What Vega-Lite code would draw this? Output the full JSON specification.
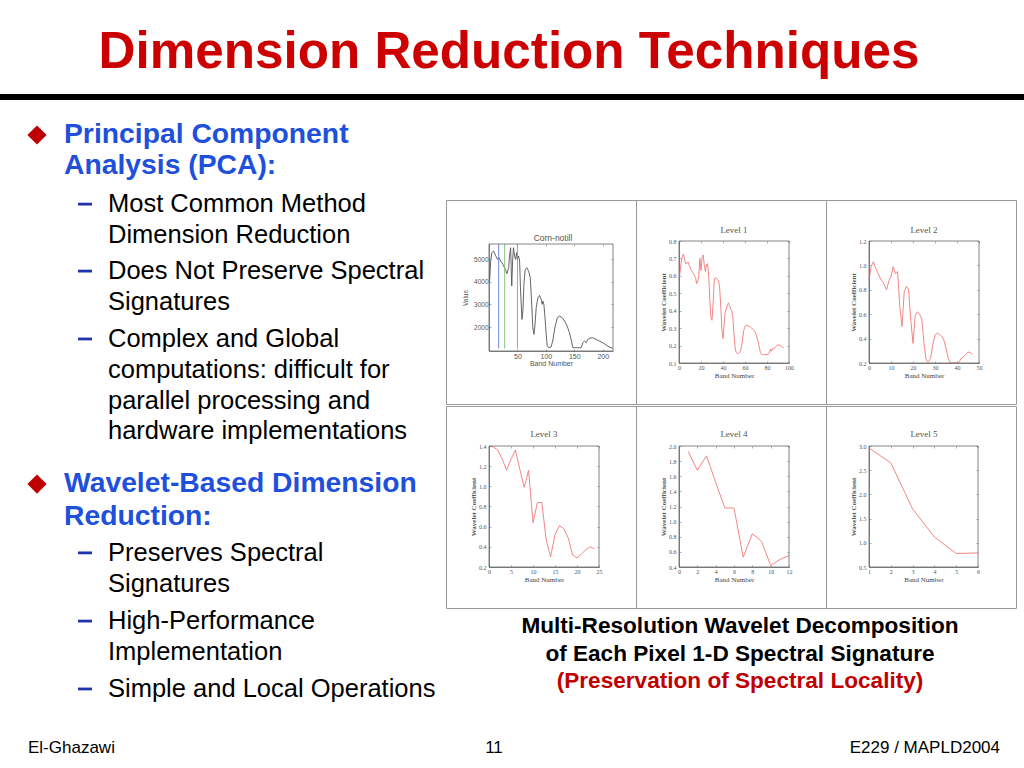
{
  "$schema": "https://vega.github.io/schema/vega-lite/v6.json",
  "padding": 0,
  "background": "white",
  "spacing": 0,
  "config": {
    "view": {"stroke": null},
    "concat": {"spacing": 0},
    "text": {"font": "Liberation Sans"},
    "axis": {"grid": false}
  },
  "vconcat": [
    {
      "width": 1024,
      "height": 100,
      "data": {"values": [{"t": "Dimension Reduction Techniques"}]},
      "layer": [
        {
          "mark": {"type": "text", "font": "Liberation Sans", "fontSize": 51.2, "fontWeight": "bold", "color": "#CC0000", "baseline": "alphabetic", "align": "center", "dx": -3, "dy": 18},
          "encoding": {"text": {"field": "t"}}
        },
        {
          "mark": {"type": "rect", "color": "#000000"},
          "encoding": {
            "y": {"datum": 94, "type": "quantitative", "scale": {"domain": [0, 100], "range": [0, 100]}, "axis": null},
            "y2": {"datum": 100}
          }
        }
      ]
    },
    {
      "hconcat": [
        {
          "width": 445,
          "height": 618,
          "data": {"values": [
            {"line": 0, "level": 1, "first": true, "text": "Principal Component"},
            {"line": 1, "level": 1, "first": false, "text": "Analysis (PCA):"},
            {"line": 2.23, "level": 2, "first": true, "text": "Most Common Method"},
            {"line": 3.23, "level": 2, "first": false, "text": "Dimension Reduction"},
            {"line": 4.39, "level": 2, "first": true, "text": "Does Not Preserve Spectral"},
            {"line": 5.39, "level": 2, "first": false, "text": "Signatures"},
            {"line": 6.58, "level": 2, "first": true, "text": "Complex and Global"},
            {"line": 7.58, "level": 2, "first": false, "text": "computations: difficult for"},
            {"line": 8.58, "level": 2, "first": false, "text": "parallel processing and"},
            {"line": 9.55, "level": 2, "first": false, "text": "hardware implementations"},
            {"line": 11.26, "level": 1, "first": true, "text": "Wavelet-Based Dimension"},
            {"line": 12.32, "level": 1, "first": false, "text": "Reduction:"},
            {"line": 13.48, "level": 2, "first": true, "text": "Preserves Spectral"},
            {"line": 14.48, "level": 2, "first": false, "text": "Signatures"},
            {"line": 15.68, "level": 2, "first": true, "text": "High-Performance"},
            {"line": 16.68, "level": 2, "first": false, "text": "Implementation"},
            {"line": 17.87, "level": 2, "first": true, "text": "Simple and Local Operations"}
          ]},
          "layer": [
            {
              "transform": [{"filter": "datum.level == 1"}],
              "mark": {"type": "text", "font": "Liberation Sans", "fontSize": 28.3, "fontWeight": "bold", "color": "#1E50DC", "align": "left", "baseline": "middle"},
              "encoding": {
                "x": {"field": "level", "type": "quantitative", "scale": {"domain": [1, 2], "range": [64, 108]}, "axis": null},
                "y": {"field": "line", "type": "quantitative", "scale": {"domain": [0, 18], "range": [35, 593]}, "axis": null},
                "text": {"field": "text"}
              }
            },
            {
              "transform": [{"filter": "datum.level == 2"}],
              "mark": {"type": "text", "font": "Liberation Sans", "fontSize": 25.5, "color": "#000000", "align": "left", "baseline": "middle"},
              "encoding": {
                "x": {"field": "level", "type": "quantitative", "scale": {"domain": [1, 2], "range": [64, 108]}, "axis": null},
                "y": {"field": "line", "type": "quantitative", "scale": {"domain": [0, 18], "range": [35, 593]}, "axis": null},
                "text": {"field": "text"}
              }
            },
            {
              "transform": [{"filter": "datum.level == 1 && datum.first"}],
              "mark": {"type": "point", "shape": "diamond", "filled": true, "size": 370, "color": "#C00000", "opacity": 1},
              "encoding": {
                "x": {"field": "level", "type": "quantitative", "scale": {"domain": [1, 2], "range": [37, 85]}, "axis": null},
                "y": {"field": "line", "type": "quantitative", "scale": {"domain": [0, 18], "range": [35, 593]}, "axis": null}
              }
            },
            {
              "transform": [{"filter": "datum.level == 2 && datum.first"}],
              "mark": {"type": "point", "shape": "M-1,-0.2H1V0.2H-1Z", "filled": true, "size": 196, "color": "#2233AA", "opacity": 1},
              "encoding": {
                "x": {"field": "level", "type": "quantitative", "scale": {"domain": [1, 2], "range": [37, 85]}, "axis": null},
                "y": {"field": "line", "type": "quantitative", "scale": {"domain": [0, 18], "range": [35, 593]}, "axis": null}
              }
            }
          ],
          "resolve": {"scale": {"x": "independent"}}
        },
        {
          "vconcat": [
            {
              "width": 570,
              "height": 99,
              "data": {"values": [{"a": 1}]},
              "mark": {"type": "text"},
              "encoding": {"text": {"value": ""}}
            },
            {
              "vconcat": [
                {
                  "hconcat": [
                    {
                      "width": 190,
                      "height": 204,
                      "view": {"stroke": "#999999", "strokeWidth": 1},
                      "title": {"text": "Corn-notill", "frame": "group", "anchor": "middle", "offset": -49, "dx": 12, "baseline": "alphabetic", "font": "Liberation Sans", "fontSize": 8.5, "fontWeight": "normal", "color": "#555555"},
                      "layer": [
                        {
                          "data": {"values": [
                            {"band": 1, "value": 4040}, {"band": 3, "value": 4926}, {"band": 5, "value": 5295}, {"band": 8, "value": 5370}, {"band": 12, "value": 5150}, {"band": 15, "value": 5000}, {"band": 17.5, "value": 5074}, {"band": 20.5, "value": 4926}, {"band": 24.5, "value": 4780}, {"band": 28.6, "value": 4557}, {"band": 31.6, "value": 4365}, {"band": 34.5, "value": 4630}, {"band": 36, "value": 5150}, {"band": 38, "value": 5517}, {"band": 39, "value": 4630}, {"band": 40, "value": 3818}, {"band": 41.5, "value": 4926}, {"band": 43, "value": 5517}, {"band": 45, "value": 5150}, {"band": 46.8, "value": 5000}, {"band": 48.5, "value": 5295}, {"band": 50, "value": 5000}, {"band": 52, "value": 5150}, {"band": 53.8, "value": 4926}, {"band": 55.5, "value": 3597}, {"band": 58, "value": 2340}, {"band": 59.6, "value": 2711}, {"band": 61.4, "value": 3892}, {"band": 63.7, "value": 4557}, {"band": 66.7, "value": 4630}, {"band": 70, "value": 4453}, {"band": 72.5, "value": 4188}, {"band": 74.8, "value": 3154}, {"band": 77, "value": 1972}, {"band": 79, "value": 1677}, {"band": 80.7, "value": 2046}, {"band": 83, "value": 2858}, {"band": 86, "value": 3301}, {"band": 88.9, "value": 3405}, {"band": 91.8, "value": 3228}, {"band": 93.6, "value": 3006}, {"band": 94.7, "value": 3154}, {"band": 96.5, "value": 3006}, {"band": 98, "value": 2563}, {"band": 100.6, "value": 1677}, {"band": 102.3, "value": 1160}, {"band": 105, "value": 1086}, {"band": 109, "value": 1116}, {"band": 112, "value": 1382}, {"band": 115.8, "value": 1972}, {"band": 120, "value": 2415}, {"band": 124, "value": 2489}, {"band": 128.7, "value": 2415}, {"band": 133, "value": 2268}, {"band": 137.4, "value": 2046}, {"band": 141.5, "value": 1751}, {"band": 145, "value": 1382}, {"band": 147.4, "value": 1086}, {"band": 150, "value": 1086}, {"band": 156, "value": 1086}, {"band": 162, "value": 1086}, {"band": 165, "value": 1307}, {"band": 168, "value": 1382}, {"band": 171, "value": 1307}, {"band": 173.7, "value": 1455}, {"band": 176.6, "value": 1500}, {"band": 182.5, "value": 1530}, {"band": 188, "value": 1455}, {"band": 194, "value": 1382}, {"band": 200, "value": 1307}, {"band": 206, "value": 1204}, {"band": 211.7, "value": 1116}, {"band": 217.5, "value": 1056}
                          ]},
                          "mark": {"type": "line", "color": "#555555", "strokeWidth": 0.9},
                          "encoding": {
                            "x": {"field": "band", "type": "quantitative", "scale": {"domain": [0, 218], "range": [43, 167], "nice": false, "zero": false},
                              "axis": {"orient": "bottom", "offset": -53, "values": [50, 100, 150, 200], "format": "d", "title": "Band Number", "labelFont": "Liberation Sans", "labelFontSize": 7, "labelColor": "#555555", "labelPadding": 3, "labelFlush": false, "labelOverlap": false, "titleFont": "Liberation Sans", "titleFontSize": 7, "titleFontWeight": "normal", "titleColor": "#555555", "titlePadding": 0, "tickSize": -2, "tickColor": "#777777", "tickWidth": 0.6, "domainColor": "#666666", "domainWidth": 0.8}},
                            "y": {"field": "value", "type": "quantitative", "scale": {"domain": [940, 5680], "range": [151, 44], "nice": false, "zero": false},
                              "axis": {"orient": "left", "offset": -43, "values": [2000, 3000, 4000, 5000], "format": "d", "title": "Value", "labelFont": "Liberation Sans", "labelFontSize": 6.5, "labelColor": "#555555", "labelPadding": 3, "labelFlush": false, "labelOverlap": false, "titleFont": "Liberation Sans", "titleFontSize": 6.5, "titleFontWeight": "normal", "titleColor": "#555555", "titlePadding": 5, "tickSize": -2, "tickColor": "#777777", "tickWidth": 0.6, "domainColor": "#666666", "domainWidth": 0.8}}
                          }
                        },
                        {
                          "data": {"values": [{"band": 17, "marker": "blue"}, {"band": 27.5, "marker": "green"}, {"band": 50, "marker": "red"}]},
                          "mark": {"type": "rule", "strokeWidth": 0.9},
                          "encoding": {
                            "x": {"field": "band", "type": "quantitative", "axis": null},
                            "y": {"datum": 5680, "type": "quantitative", "axis": null},
                            "y2": {"datum": 1050},
                            "color": {"field": "marker", "type": "nominal", "scale": {"domain": ["blue", "green", "red"], "range": ["#6677DD", "#77C077", "#DD7777"]}, "legend": null}
                          }
                        },
                        {
                          "data": {"values": [{"frame": "box"}]},
                          "mark": {"type": "rect", "fillOpacity": 0, "stroke": "#666666", "strokeWidth": 0.8},
                          "encoding": {
                            "x": {"datum": 0, "type": "quantitative", "axis": {"orient": "top", "offset": -44, "values": [0, 50, 100, 150, 200], "labels": false, "title": null, "domain": false, "tickSize": -2, "tickColor": "#777777", "tickWidth": 0.6}},
                            "x2": {"datum": 218},
                            "y": {"datum": 940, "type": "quantitative", "axis": {"orient": "right", "offset": -23, "values": [2000, 3000, 4000, 5000], "labels": false, "title": null, "domain": false, "tickSize": -2, "tickColor": "#777777", "tickWidth": 0.6}},
                            "y2": {"datum": 5680}
                          }
                        }
                      ],
                      "resolve": {"axis": {"x": "independent", "y": "independent"}}
                    },
                    {
                      "width": 190,
                      "height": 204,
                      "view": {"stroke": "#999999", "strokeWidth": 1},
                      "title": {"text": "Level 1", "frame": "group", "anchor": "middle", "offset": -42, "dx": 3, "baseline": "alphabetic", "font": "Liberation Serif", "fontSize": 9, "fontWeight": "normal", "color": "#555555"},
                      "layer": [
                        {
                          "data": {"values": [
                            {"band": 0, "coef": 0.58}, {"band": 1, "coef": 0.62}, {"band": 2, "coef": 0.68}, {"band": 3, "coef": 0.71}, {"band": 4, "coef": 0.725}, {"band": 5, "coef": 0.7}, {"band": 6, "coef": 0.67}, {"band": 7, "coef": 0.67}, {"band": 8, "coef": 0.68}, {"band": 9, "coef": 0.665}, {"band": 10, "coef": 0.65}, {"band": 11, "coef": 0.635}, {"band": 12, "coef": 0.625}, {"band": 13, "coef": 0.615}, {"band": 14, "coef": 0.6}, {"band": 15, "coef": 0.59}, {"band": 16, "coef": 0.555}, {"band": 17, "coef": 0.57}, {"band": 18, "coef": 0.6}, {"band": 19, "coef": 0.7}, {"band": 20, "coef": 0.63}, {"band": 21, "coef": 0.71}, {"band": 22, "coef": 0.72}, {"band": 23, "coef": 0.66}, {"band": 24, "coef": 0.625}, {"band": 25, "coef": 0.665}, {"band": 26, "coef": 0.67}, {"band": 27, "coef": 0.6}, {"band": 28, "coef": 0.47}, {"band": 29, "coef": 0.36}, {"band": 30, "coef": 0.345}, {"band": 31, "coef": 0.44}, {"band": 32, "coef": 0.57}, {"band": 33, "coef": 0.59}, {"band": 34, "coef": 0.585}, {"band": 35, "coef": 0.58}, {"band": 36, "coef": 0.57}, {"band": 37, "coef": 0.53}, {"band": 38, "coef": 0.42}, {"band": 39, "coef": 0.29}, {"band": 40, "coef": 0.24}, {"band": 41, "coef": 0.32}, {"band": 42, "coef": 0.39}, {"band": 43, "coef": 0.41}, {"band": 44, "coef": 0.435}, {"band": 45, "coef": 0.445}, {"band": 46, "coef": 0.425}, {"band": 47, "coef": 0.41}, {"band": 48, "coef": 0.4}, {"band": 49, "coef": 0.36}, {"band": 50, "coef": 0.26}, {"band": 51, "coef": 0.19}, {"band": 52, "coef": 0.16}, {"band": 53, "coef": 0.155}, {"band": 54, "coef": 0.155}, {"band": 55, "coef": 0.158}, {"band": 56, "coef": 0.17}, {"band": 57, "coef": 0.2}, {"band": 58, "coef": 0.25}, {"band": 59, "coef": 0.29}, {"band": 60, "coef": 0.31}, {"band": 61, "coef": 0.318}, {"band": 62, "coef": 0.315}, {"band": 63, "coef": 0.312}, {"band": 64, "coef": 0.31}, {"band": 65, "coef": 0.305}, {"band": 66, "coef": 0.3}, {"band": 67, "coef": 0.296}, {"band": 68, "coef": 0.29}, {"band": 69, "coef": 0.28}, {"band": 70, "coef": 0.265}, {"band": 71, "coef": 0.245}, {"band": 72, "coef": 0.22}, {"band": 73, "coef": 0.19}, {"band": 74, "coef": 0.16}, {"band": 75, "coef": 0.15}, {"band": 76, "coef": 0.148}, {"band": 77, "coef": 0.148}, {"band": 78, "coef": 0.148}, {"band": 79, "coef": 0.148}, {"band": 80, "coef": 0.149}, {"band": 81, "coef": 0.15}, {"band": 82, "coef": 0.155}, {"band": 83, "coef": 0.18}, {"band": 84, "coef": 0.167}, {"band": 85, "coef": 0.185}, {"band": 86, "coef": 0.18}, {"band": 87, "coef": 0.19}, {"band": 88, "coef": 0.195}, {"band": 89, "coef": 0.2}, {"band": 90, "coef": 0.204}, {"band": 91, "coef": 0.203}, {"band": 92, "coef": 0.2}, {"band": 93, "coef": 0.196}, {"band": 94, "coef": 0.19}, {"band": 95, "coef": 0.19}
                          ]},
                          "mark": {"type": "line", "color": "#F07878", "strokeWidth": 0.9},
                          "encoding": {
                            "x": {"field": "band", "type": "quantitative", "scale": {"domain": [0, 100], "range": [43, 153], "nice": false, "zero": false},
                              "axis": {"orient": "bottom", "offset": -41, "values": [0, 20, 40, 60, 80, 100], "format": "d", "title": "Band Number", "labelFont": "Liberation Serif", "labelFontSize": 6, "labelColor": "#555555", "labelPadding": 3, "labelFlush": false, "labelOverlap": false, "titleFont": "Liberation Serif", "titleFontSize": 7, "titleFontWeight": "normal", "titleColor": "#444444", "titlePadding": 1, "tickSize": -2, "tickColor": "#777777", "tickWidth": 0.6, "domainColor": "#666666", "domainWidth": 0.8}},
                            "y": {"field": "coef", "type": "quantitative", "scale": {"domain": [0.1, 0.8], "range": [163, 41], "nice": false, "zero": false},
                              "axis": {"orient": "left", "offset": -43, "values": [0.1, 0.2, 0.3, 0.4, 0.5, 0.6, 0.7, 0.8], "format": ".1f", "title": "Wavelet Coefficient", "labelFont": "Liberation Serif", "labelFontSize": 6, "labelColor": "#555555", "labelPadding": 5, "labelFlush": false, "labelOverlap": false, "titleFont": "Liberation Serif", "titleFontSize": 7, "titleFontWeight": "bold", "titleColor": "#555555", "titlePadding": 2, "tickSize": -2, "tickColor": "#777777", "tickWidth": 0.6, "domainColor": "#666666", "domainWidth": 0.8}}
                          }
                        },
                        {
                          "data": {"values": [{"frame": "box"}]},
                          "mark": {"type": "rect", "fillOpacity": 0, "stroke": "#666666", "strokeWidth": 0.8},
                          "encoding": {
                            "x": {"datum": 0, "type": "quantitative", "axis": {"orient": "top", "offset": -41, "values": [0, 20, 40, 60, 80, 100], "labels": false, "title": null, "domain": false, "tickSize": -2, "tickColor": "#777777", "tickWidth": 0.6}},
                            "x2": {"datum": 100},
                            "y": {"datum": 0.1, "type": "quantitative", "axis": {"orient": "right", "offset": -37, "values": [0.1, 0.2, 0.3, 0.4, 0.5, 0.6, 0.7, 0.8], "labels": false, "title": null, "domain": false, "tickSize": -2, "tickColor": "#777777", "tickWidth": 0.6}},
                            "y2": {"datum": 0.8}
                          }
                        }
                      ],
                      "resolve": {"axis": {"x": "independent", "y": "independent"}}
                    },
                    {
                      "width": 190,
                      "height": 204,
                      "view": {"stroke": "#999999", "strokeWidth": 1},
                      "title": {"text": "Level 2", "frame": "group", "anchor": "middle", "offset": -42, "dx": 3, "baseline": "alphabetic", "font": "Liberation Serif", "fontSize": 9, "fontWeight": "normal", "color": "#555555"},
                      "layer": [
                        {
                          "data": {"values": [
                            {"band": 0, "coef": 0.88}, {"band": 1, "coef": 0.99}, {"band": 2, "coef": 1.03}, {"band": 3, "coef": 0.98}, {"band": 4, "coef": 0.94}, {"band": 5, "coef": 0.9}, {"band": 6, "coef": 0.87}, {"band": 7, "coef": 0.84}, {"band": 8, "coef": 0.8}, {"band": 9, "coef": 0.87}, {"band": 10, "coef": 0.91}, {"band": 11, "coef": 0.99}, {"band": 12, "coef": 0.93}, {"band": 13, "coef": 0.95}, {"band": 14, "coef": 0.66}, {"band": 15, "coef": 0.5}, {"band": 16, "coef": 0.78}, {"band": 17, "coef": 0.83}, {"band": 18, "coef": 0.8}, {"band": 19, "coef": 0.55}, {"band": 20, "coef": 0.36}, {"band": 21, "coef": 0.59}, {"band": 22, "coef": 0.62}, {"band": 23, "coef": 0.6}, {"band": 24, "coef": 0.56}, {"band": 25, "coef": 0.36}, {"band": 26, "coef": 0.22}, {"band": 27, "coef": 0.21}, {"band": 28, "coef": 0.24}, {"band": 29, "coef": 0.35}, {"band": 30, "coef": 0.43}, {"band": 31, "coef": 0.445}, {"band": 32, "coef": 0.435}, {"band": 33, "coef": 0.42}, {"band": 34, "coef": 0.39}, {"band": 35, "coef": 0.32}, {"band": 36, "coef": 0.24}, {"band": 37, "coef": 0.2}, {"band": 38, "coef": 0.2}, {"band": 39, "coef": 0.2}, {"band": 40, "coef": 0.2}, {"band": 41, "coef": 0.21}, {"band": 42, "coef": 0.24}, {"band": 43, "coef": 0.25}, {"band": 44, "coef": 0.27}, {"band": 45, "coef": 0.29}, {"band": 46, "coef": 0.285}, {"band": 47, "coef": 0.27}
                          ]},
                          "mark": {"type": "line", "color": "#F07878", "strokeWidth": 0.9},
                          "encoding": {
                            "x": {"field": "band", "type": "quantitative", "scale": {"domain": [0, 50], "range": [43, 153], "nice": false, "zero": false},
                              "axis": {"orient": "bottom", "offset": -41, "values": [0, 10, 20, 30, 40, 50], "format": "d", "title": "Band Number", "labelFont": "Liberation Serif", "labelFontSize": 6, "labelColor": "#555555", "labelPadding": 3, "labelFlush": false, "labelOverlap": false, "titleFont": "Liberation Serif", "titleFontSize": 7, "titleFontWeight": "normal", "titleColor": "#444444", "titlePadding": 1, "tickSize": -2, "tickColor": "#777777", "tickWidth": 0.6, "domainColor": "#666666", "domainWidth": 0.8}},
                            "y": {"field": "coef", "type": "quantitative", "scale": {"domain": [0.2, 1.2], "range": [163, 41], "nice": false, "zero": false},
                              "axis": {"orient": "left", "offset": -43, "values": [0.2, 0.4, 0.6, 0.8, 1.0, 1.2], "format": ".1f", "title": "Wavelet Coefficient", "labelFont": "Liberation Serif", "labelFontSize": 6, "labelColor": "#555555", "labelPadding": 5, "labelFlush": false, "labelOverlap": false, "titleFont": "Liberation Serif", "titleFontSize": 7, "titleFontWeight": "bold", "titleColor": "#555555", "titlePadding": 2, "tickSize": -2, "tickColor": "#777777", "tickWidth": 0.6, "domainColor": "#666666", "domainWidth": 0.8}}
                          }
                        },
                        {
                          "data": {"values": [{"frame": "box"}]},
                          "mark": {"type": "rect", "fillOpacity": 0, "stroke": "#666666", "strokeWidth": 0.8},
                          "encoding": {
                            "x": {"datum": 0, "type": "quantitative", "axis": {"orient": "top", "offset": -41, "values": [0, 10, 20, 30, 40, 50], "labels": false, "title": null, "domain": false, "tickSize": -2, "tickColor": "#777777", "tickWidth": 0.6}},
                            "x2": {"datum": 50},
                            "y": {"datum": 0.2, "type": "quantitative", "axis": {"orient": "right", "offset": -37, "values": [0.2, 0.4, 0.6, 0.8, 1.0, 1.2], "labels": false, "title": null, "domain": false, "tickSize": -2, "tickColor": "#777777", "tickWidth": 0.6}},
                            "y2": {"datum": 1.2}
                          }
                        }
                      ],
                      "resolve": {"axis": {"x": "independent", "y": "independent"}}
                    }
                  ],
                  "spacing": 0,
                  "bounds": "flush"
                },
                {
                  "hconcat": [
                    {
                      "width": 190,
                      "height": 202,
                      "view": {"stroke": "#999999", "strokeWidth": 1},
                      "title": {"text": "Level 3", "frame": "group", "anchor": "middle", "offset": -40, "dx": 3, "baseline": "alphabetic", "font": "Liberation Serif", "fontSize": 9, "fontWeight": "normal", "color": "#555555"},
                      "layer": [
                        {
                          "data": {"values": [
                            {"band": 0, "coef": 1.4}, {"band": 1, "coef": 1.39}, {"band": 2, "coef": 1.36}, {"band": 3, "coef": 1.27}, {"band": 4, "coef": 1.16}, {"band": 5, "coef": 1.27}, {"band": 6, "coef": 1.36}, {"band": 7, "coef": 1.17}, {"band": 8, "coef": 0.99}, {"band": 9, "coef": 1.16}, {"band": 10, "coef": 0.64}, {"band": 11, "coef": 0.84}, {"band": 12, "coef": 0.84}, {"band": 13, "coef": 0.47}, {"band": 14, "coef": 0.3}, {"band": 15, "coef": 0.52}, {"band": 16, "coef": 0.61}, {"band": 17, "coef": 0.58}, {"band": 18, "coef": 0.49}, {"band": 19, "coef": 0.32}, {"band": 20, "coef": 0.29}, {"band": 21, "coef": 0.33}, {"band": 22, "coef": 0.37}, {"band": 23, "coef": 0.4}, {"band": 24, "coef": 0.38}
                          ]},
                          "mark": {"type": "line", "color": "#F07878", "strokeWidth": 0.9},
                          "encoding": {
                            "x": {"field": "band", "type": "quantitative", "scale": {"domain": [0, 25], "range": [43, 153], "nice": false, "zero": false},
                              "axis": {"orient": "bottom", "offset": -41, "values": [0, 5, 10, 15, 20, 25], "format": "d", "title": "Band Number", "labelFont": "Liberation Serif", "labelFontSize": 6, "labelColor": "#555555", "labelPadding": 3, "labelFlush": false, "labelOverlap": false, "titleFont": "Liberation Serif", "titleFontSize": 7, "titleFontWeight": "normal", "titleColor": "#444444", "titlePadding": 1, "tickSize": -2, "tickColor": "#777777", "tickWidth": 0.6, "domainColor": "#666666", "domainWidth": 0.8}},
                            "y": {"field": "coef", "type": "quantitative", "scale": {"domain": [0.2, 1.4], "range": [161, 40], "nice": false, "zero": false},
                              "axis": {"orient": "left", "offset": -43, "values": [0.2, 0.4, 0.6, 0.8, 1.0, 1.2, 1.4], "format": ".1f", "title": "Wavelet Coefficient", "labelFont": "Liberation Serif", "labelFontSize": 6, "labelColor": "#555555", "labelPadding": 5, "labelFlush": false, "labelOverlap": false, "titleFont": "Liberation Serif", "titleFontSize": 7, "titleFontWeight": "bold", "titleColor": "#555555", "titlePadding": 2, "tickSize": -2, "tickColor": "#777777", "tickWidth": 0.6, "domainColor": "#666666", "domainWidth": 0.8}}
                          }
                        },
                        {
                          "data": {"values": [{"frame": "box"}]},
                          "mark": {"type": "rect", "fillOpacity": 0, "stroke": "#666666", "strokeWidth": 0.8},
                          "encoding": {
                            "x": {"datum": 0, "type": "quantitative", "axis": {"orient": "top", "offset": -40, "values": [0, 5, 10, 15, 20, 25], "labels": false, "title": null, "domain": false, "tickSize": -2, "tickColor": "#777777", "tickWidth": 0.6}},
                            "x2": {"datum": 25},
                            "y": {"datum": 0.2, "type": "quantitative", "axis": {"orient": "right", "offset": -37, "values": [0.2, 0.4, 0.6, 0.8, 1.0, 1.2, 1.4], "labels": false, "title": null, "domain": false, "tickSize": -2, "tickColor": "#777777", "tickWidth": 0.6}},
                            "y2": {"datum": 1.4}
                          }
                        }
                      ],
                      "resolve": {"axis": {"x": "independent", "y": "independent"}}
                    },
                    {
                      "width": 190,
                      "height": 202,
                      "view": {"stroke": "#999999", "strokeWidth": 1},
                      "title": {"text": "Level 4", "frame": "group", "anchor": "middle", "offset": -40, "dx": 3, "baseline": "alphabetic", "font": "Liberation Serif", "fontSize": 9, "fontWeight": "normal", "color": "#555555"},
                      "layer": [
                        {
                          "data": {"values": [
                            {"band": 1, "coef": 1.93}, {"band": 2, "coef": 1.68}, {"band": 3, "coef": 1.87}, {"band": 4, "coef": 1.52}, {"band": 5, "coef": 1.18}, {"band": 6, "coef": 1.18}, {"band": 7, "coef": 0.53}, {"band": 8, "coef": 0.84}, {"band": 9, "coef": 0.74}, {"band": 10, "coef": 0.42}, {"band": 11, "coef": 0.5}, {"band": 12, "coef": 0.55}
                          ]},
                          "mark": {"type": "line", "color": "#F07878", "strokeWidth": 0.9},
                          "encoding": {
                            "x": {"field": "band", "type": "quantitative", "scale": {"domain": [0, 12], "range": [43, 153], "nice": false, "zero": false},
                              "axis": {"orient": "bottom", "offset": -41, "values": [0, 2, 4, 6, 8, 10, 12], "format": "d", "title": "Band Number", "labelFont": "Liberation Serif", "labelFontSize": 6, "labelColor": "#555555", "labelPadding": 3, "labelFlush": false, "labelOverlap": false, "titleFont": "Liberation Serif", "titleFontSize": 7, "titleFontWeight": "normal", "titleColor": "#444444", "titlePadding": 1, "tickSize": -2, "tickColor": "#777777", "tickWidth": 0.6, "domainColor": "#666666", "domainWidth": 0.8}},
                            "y": {"field": "coef", "type": "quantitative", "scale": {"domain": [0.4, 2.0], "range": [161, 40], "nice": false, "zero": false},
                              "axis": {"orient": "left", "offset": -43, "values": [0.4, 0.6, 0.8, 1.0, 1.2, 1.4, 1.6, 1.8, 2.0], "format": ".1f", "title": "Wavelet Coefficient", "labelFont": "Liberation Serif", "labelFontSize": 6, "labelColor": "#555555", "labelPadding": 5, "labelFlush": false, "labelOverlap": false, "titleFont": "Liberation Serif", "titleFontSize": 7, "titleFontWeight": "bold", "titleColor": "#555555", "titlePadding": 2, "tickSize": -2, "tickColor": "#777777", "tickWidth": 0.6, "domainColor": "#666666", "domainWidth": 0.8}}
                          }
                        },
                        {
                          "data": {"values": [{"frame": "box"}]},
                          "mark": {"type": "rect", "fillOpacity": 0, "stroke": "#666666", "strokeWidth": 0.8},
                          "encoding": {
                            "x": {"datum": 0, "type": "quantitative", "axis": {"orient": "top", "offset": -40, "values": [0, 2, 4, 6, 8, 10, 12], "labels": false, "title": null, "domain": false, "tickSize": -2, "tickColor": "#777777", "tickWidth": 0.6}},
                            "x2": {"datum": 12},
                            "y": {"datum": 0.4, "type": "quantitative", "axis": {"orient": "right", "offset": -37, "values": [0.4, 0.6, 0.8, 1.0, 1.2, 1.4, 1.6, 1.8, 2.0], "labels": false, "title": null, "domain": false, "tickSize": -2, "tickColor": "#777777", "tickWidth": 0.6}},
                            "y2": {"datum": 2.0}
                          }
                        }
                      ],
                      "resolve": {"axis": {"x": "independent", "y": "independent"}}
                    },
                    {
                      "width": 190,
                      "height": 202,
                      "view": {"stroke": "#999999", "strokeWidth": 1},
                      "title": {"text": "Level 5", "frame": "group", "anchor": "middle", "offset": -40, "dx": 3, "baseline": "alphabetic", "font": "Liberation Serif", "fontSize": 9, "fontWeight": "normal", "color": "#555555"},
                      "layer": [
                        {
                          "data": {"values": [
                            {"band": 1, "coef": 2.96}, {"band": 2, "coef": 2.65}, {"band": 3, "coef": 1.7}, {"band": 4, "coef": 1.12}, {"band": 5, "coef": 0.78}, {"band": 6, "coef": 0.79}
                          ]},
                          "mark": {"type": "line", "color": "#F07878", "strokeWidth": 0.9},
                          "encoding": {
                            "x": {"field": "band", "type": "quantitative", "scale": {"domain": [1, 6], "range": [43, 152], "nice": false, "zero": false},
                              "axis": {"orient": "bottom", "offset": -41, "values": [1, 2, 3, 4, 5, 6], "format": "d", "title": "Band Number", "labelFont": "Liberation Serif", "labelFontSize": 6, "labelColor": "#555555", "labelPadding": 3, "labelFlush": false, "labelOverlap": false, "titleFont": "Liberation Serif", "titleFontSize": 7, "titleFontWeight": "normal", "titleColor": "#444444", "titlePadding": 1, "tickSize": -2, "tickColor": "#777777", "tickWidth": 0.6, "domainColor": "#666666", "domainWidth": 0.8}},
                            "y": {"field": "coef", "type": "quantitative", "scale": {"domain": [0.5, 3.0], "range": [161, 40], "nice": false, "zero": false},
                              "axis": {"orient": "left", "offset": -43, "values": [0.5, 1.0, 1.5, 2.0, 2.5, 3.0], "format": ".1f", "title": "Wavelet Coefficient", "labelFont": "Liberation Serif", "labelFontSize": 6, "labelColor": "#555555", "labelPadding": 5, "labelFlush": false, "labelOverlap": false, "titleFont": "Liberation Serif", "titleFontSize": 7, "titleFontWeight": "bold", "titleColor": "#555555", "titlePadding": 2, "tickSize": -2, "tickColor": "#777777", "tickWidth": 0.6, "domainColor": "#666666", "domainWidth": 0.8}}
                          }
                        },
                        {
                          "data": {"values": [{"frame": "box"}]},
                          "mark": {"type": "rect", "fillOpacity": 0, "stroke": "#666666", "strokeWidth": 0.8},
                          "encoding": {
                            "x": {"datum": 1, "type": "quantitative", "axis": {"orient": "top", "offset": -40, "values": [1, 2, 3, 4, 5, 6], "labels": false, "title": null, "domain": false, "tickSize": -2, "tickColor": "#777777", "tickWidth": 0.6}},
                            "x2": {"datum": 6},
                            "y": {"datum": 0.5, "type": "quantitative", "axis": {"orient": "right", "offset": -38, "values": [0.5, 1.0, 1.5, 2.0, 2.5, 3.0], "labels": false, "title": null, "domain": false, "tickSize": -2, "tickColor": "#777777", "tickWidth": 0.6}},
                            "y2": {"datum": 3.0}
                          }
                        }
                      ],
                      "resolve": {"axis": {"x": "independent", "y": "independent"}}
                    }
                  ],
                  "spacing": 0,
                  "bounds": "flush"
                }
              ],
              "spacing": 0
            },
            {
              "width": 570,
              "height": 111,
              "data": {"values": [
                {"line": 0, "t": "Multi-Resolution Wavelet Decomposition", "emph": "no"},
                {"line": 1, "t": "of Each Pixel 1-D Spectral Signature", "emph": "no"},
                {"line": 2, "t": "(Preservation of Spectral Locality)", "emph": "yes"}
              ]},
              "encoding": {
                "y": {"field": "line", "type": "quantitative", "scale": {"domain": [0, 2], "range": [17, 72]}, "axis": null},
                "text": {"field": "t"}
              },
              "layer": [
                {"transform": [{"filter": "datum.emph == 'no'"}], "mark": {"type": "text", "font": "Liberation Sans", "fontWeight": "bold", "fontSize": 22.6, "align": "center", "baseline": "middle", "dx": 9, "color": "#000000"}},
                {"transform": [{"filter": "datum.emph == 'yes'"}], "mark": {"type": "text", "font": "Liberation Sans", "fontWeight": "bold", "fontSize": 22.6, "align": "center", "baseline": "middle", "dx": 9, "color": "#C00000"}}
              ]
            }
          ],
          "spacing": 0
        }
      ],
      "spacing": 0
    },
    {
      "width": 1024,
      "height": 50,
      "data": {"values": [
        {"t": "El-Ghazawi", "pos": "left"},
        {"t": "11", "pos": "center"},
        {"t": "E229 / MAPLD2004", "pos": "right"}
      ]},
      "encoding": {
        "x": {"field": "pos", "type": "nominal", "scale": {"type": "point", "domain": ["left", "center", "right"], "range": [28, 1000], "padding": 0}, "axis": null},
        "text": {"field": "t"}
      },
      "layer": [
        {"transform": [{"filter": "datum.pos == 'left'"}], "mark": {"type": "text", "font": "Liberation Sans", "fontSize": 17, "align": "left", "baseline": "middle", "dy": 3, "color": "#000000"}},
        {"transform": [{"filter": "datum.pos == 'center'"}], "mark": {"type": "text", "font": "Liberation Sans", "fontSize": 17, "align": "center", "baseline": "middle", "dy": 3, "dx": -20, "color": "#000000"}},
        {"transform": [{"filter": "datum.pos == 'right'"}], "mark": {"type": "text", "font": "Liberation Sans", "fontSize": 17, "align": "right", "baseline": "middle", "dy": 3, "color": "#000000"}}
      ]
    }
  ]
}
